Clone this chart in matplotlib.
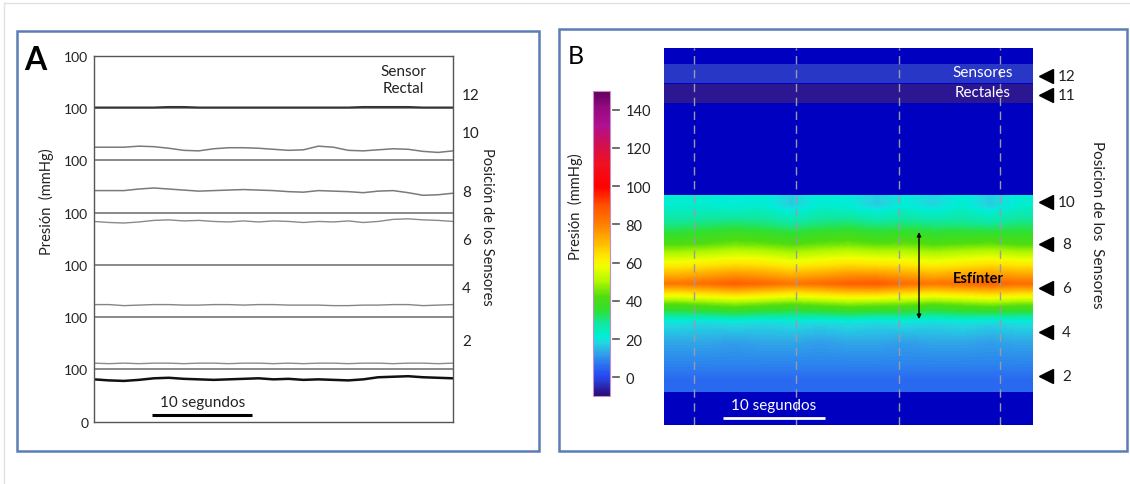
import numpy as np
import matplotlib.pyplot as plt
from matplotlib.colors import LinearSegmentedColormap, Normalize
from matplotlib.patches import Rectangle
from matplotlib.lines import Line2D
import matplotlib.transforms as mtransforms

plt.rcParams['font.family'] = ['Lato', 'DejaVu Sans']

W, H = 1130, 485

# ---- panel A: line traces, one band of 100 mmHg per channel (bottom to top) ----
t_trace = np.arange(0, 36.1, 1.5)
trace_ch1 = [81, 79, 78, 80, 83, 84, 82, 81, 80, 81, 82, 83, 81, 82, 80, 81, 80, 79, 81, 85, 86, 87, 85, 84, 83]
trace_ch2 = [12, 11, 12, 11, 12, 12, 11, 12, 12, 11, 12, 12, 11, 12, 11, 12, 12, 11, 12, 12, 11, 12, 12, 11, 12]
trace_ch3 = [24, 24, 22, 23, 24, 24, 23, 23, 24, 24, 23, 24, 24, 23, 23, 23, 22, 22, 23, 23, 24, 24, 22, 23, 24]
trace_ch4 = [83, 81, 80, 82, 85, 86, 84, 85, 83, 82, 84, 82, 84, 83, 81, 83, 82, 84, 81, 83, 87, 88, 86, 85, 83]
trace_ch5 = [42, 42, 42, 45, 47, 45, 43, 41, 42, 43, 44, 43, 42, 40, 39, 42, 41, 40, 38, 41, 42, 38, 33, 34, 37]
trace_ch6 = [25, 25, 25, 27, 26, 23, 19, 18, 22, 24, 24, 23, 21, 19, 20, 27, 25, 19, 18, 20, 22, 21, 17, 15, 18]
trace_rectal = [1, 1, 1, 1, 1, 2, 2, 1, 1, 1, 1, 1, 1, 1, 1, 1, 1, 1, 2, 2, 2, 2, 1, 1, 1]
traces_a = [trace_ch1, trace_ch2, trace_ch3, trace_ch4, trace_ch5, trace_ch6, trace_rectal]
colors_a = ['#111111', '#8c8c8c', '#858585', '#8a8a8a', '#7a7a7a', '#7a7a7a', '#333333']
widths_a = [1.8, 1.0, 1.0, 1.0, 1.1, 1.1, 1.4]

ylabels_a = ['0'] + ['100'] * 7
sensor_labels_a = ['12', '10', '8', '6', '4', '2']
sensor_pos_a = [625, 552, 439, 348, 255, 154]

# ---- panel B: pressure topography (rows = sensors 10 down to 1, cols every 3 s) ----
t_map = np.arange(0, 36.1, 3)
sensors_map = [10, 9, 8, 7, 6, 5, 4, 3, 2, 1]
pressure_map = np.array([
    [22, 22, 21, 22, 17, 22, 21, 17, 21, 18, 22, 17, 22],
    [30, 31, 32, 31, 29, 31, 32, 30, 31, 30, 30, 29, 31],
    [42, 43, 45, 44, 42, 44, 45, 43, 44, 42, 43, 44, 42],
    [60, 62, 64, 63, 60, 62, 64, 63, 62, 60, 62, 64, 62],
    [82, 84, 87, 85, 82, 84, 87, 88, 84, 82, 84, 86, 84],
    [44, 46, 48, 46, 44, 46, 48, 47, 46, 44, 46, 48, 46],
    [19, 18, 19, 18, 19, 18, 19, 18, 19, 18, 19, 18, 19],
    [13, 13, 12, 13, 13, 12, 13, 13, 12, 13, 13, 12, 13],
    [9, 9, 9, 9, 9, 9, 9, 9, 9, 9, 9, 9, 9],
    [5, 5, 5, 5, 5, 5, 5, 5, 5, 5, 5, 5, 5],
])
rectal_sensors = [12, 11]
rectal_pressure = [-3, -7]
marker_labels_b = ['12', '11', '10', '8', '6', '4', '2']
marker_pos_b = [15.8, 14.9, 10, 8.05, 6.05, 4.04, 2.0]
cbar_ticks = [0, 20, 40, 60, 80, 100, 120, 140]

# manometry colour scale
stops = [(-10, '#2a0a70'), (-7, '#2a1a98'), (-3, '#2838c8'), (0, '#2846f0'), (6, '#2a70f0'),
         (13, '#30a8e8'), (18, '#20d8e0'), (21, '#00eed8'), (28, '#10e8a0'), (35, '#30e030'),
         (42, '#50dc10'), (50, '#b0f800'), (58, '#f0ff00'), (63, '#ffe800'), (72, '#ffb000'),
         (80, '#ff8000'), (90, '#ff5000'), (100, '#ff0000'), (112, '#f01020'), (122, '#d01050'),
         (132, '#b01090'), (142, '#900a80'), (150, '#600058')]
vmin, vmax = -10, 150
cmap = LinearSegmentedColormap.from_list(
    'hrm', [((v - vmin) / (vmax - vmin), c) for v, c in stops])
norm = Normalize(vmin, vmax)


def fr(x0, y0, x1, y1):
    """pixel box -> figure fraction rect"""
    return [x0 / W, 1 - y1 / H, (x1 - x0) / W, (y1 - y0) / H]


fig = plt.figure(figsize=(W / 100, H / 100), dpi=100)

# outer page edge and the two panel frames
fig.add_artist(Line2D([4 / W, 4 / W], [0, 1 - 4 / H], color='#e2e2e2', lw=1))
fig.add_artist(Line2D([4 / W, 1], [1 - 4 / H, 1 - 4 / H], color='#e2e2e2', lw=1))
for box in [(17, 32, 539, 452), (559, 30, 1127, 452)]:
    x0, y0, w, h = fr(*box)
    fig.add_artist(Rectangle((x0, y0), w, h, transform=fig.transFigure,
                             fill=False, edgecolor='#5b7db5', lw=1.8))

# ---------------- panel A ----------------
ax = fig.add_axes(fr(94, 56.7, 453, 422.7))
ax.set_xlim(0, 36)
ax.set_ylim(0, 700)
for k in range(1, 7):
    ax.axhline(k * 100, color='#6a6a6a', lw=1.1)
for k, (vals, c, lw) in enumerate(zip(traces_a, colors_a, widths_a)):
    ax.plot(t_trace, np.array(vals) + k * 100, color=c, lw=lw)
ax.set_xticks([])
ax.set_yticks(np.arange(0, 701, 100))
ax.set_yticklabels(ylabels_a)
ax.tick_params(axis='y', length=0, pad=4, labelsize=10, labelcolor='#222222')
for s in ax.spines.values():
    s.set_color('#555555')
    s.set_linewidth(1.0)

tr_a = mtransforms.blended_transform_factory(ax.transAxes, ax.transData)
for lab, y in zip(sensor_labels_a, sensor_pos_a):
    ax.text(1.025, y, lab, transform=tr_a, ha='left', va='center', fontsize=11, color='#222222')
ax.text(0.862, 0.935, 'Sensor\nRectal', transform=ax.transAxes, ha='center', va='center',
        fontsize=11, linespacing=1.25, color='#222222')
ax.plot([5.85, 15.85], [13.4, 13.4], color='black', lw=2.2, solid_capstyle='butt')
ax.text(10.9, 38, '10 segundos', ha='center', va='center', fontsize=11, color='#222222')

fig.text(46 / W, 1 - 201.7 / H, 'Presión  (mmHg)', rotation=90, ha='center', va='center',
         fontsize=10.5, color='#222222')
fig.text(487 / W, 1 - 227 / H, 'Posición de los Sensores', rotation=270, ha='center', va='center',
         fontsize=10.5, color='#222222')
fig.text(35 / W, 1 - 60 / H, 'A', fontsize=23, fontweight='bold', ha='center', va='center')

# ---------------- panel B ----------------
bx = fig.add_axes(fr(664.3, 49, 1033, 426))
bx.set_facecolor('#0000c0')
bx.set_xlim(0, 36)
bx.set_ylim(-0.25, 17.08)
im = bx.imshow(pressure_map, cmap=cmap, norm=norm, aspect='auto', interpolation='bilinear',
               extent=(t_map[0], t_map[-1], 1.26, 10.28), origin='upper')
rect_rows = {12: (15.46, 16.31), 11: (14.54, 15.39)}
for sid, p in zip(rectal_sensors, rectal_pressure):
    lo, hi = rect_rows[sid]
    bx.imshow([[p, p]], cmap=cmap, norm=norm, aspect='auto', extent=(0, 36, lo, hi))
for tx in [2.9, 12.85, 22.9, 32.8]:
    bx.axvline(tx, color='#9a9aa8', lw=1.0, dashes=(6, 4))
bx.set_xticks([])
bx.set_yticks([])
for s in bx.spines.values():
    s.set_visible(False)

bx.text(31.1, 15.98, 'Sensores', color='white', ha='center', va='center', fontsize=11)
bx.text(31.1, 15.06, 'Rectales', color='white', ha='center', va='center', fontsize=11)
bx.annotate('', xy=(24.87, 8.62), xytext=(24.87, 4.62),
            arrowprops=dict(arrowstyle='<|-|>', color='black', lw=1.0,
                            mutation_scale=6, shrinkA=0, shrinkB=0))
bx.text(30.7, 6.5, 'Esfínter', ha='center', va='center', fontsize=10.5, fontweight='bold')
bx.plot([5.7, 15.7], [0.07, 0.07], color='white', lw=2.0, solid_capstyle='butt')
bx.text(10.7, 0.68, '10 segundos', color='white', ha='center', va='center', fontsize=11)

tr_b = mtransforms.blended_transform_factory(bx.transAxes, bx.transData)
for lab, y in zip(marker_labels_b, marker_pos_b):
    bx.plot([1.034], [y], marker='<', color='black', markersize=9.5, transform=tr_b, clip_on=False)
    bx.text(1.0908, y, lab, transform=tr_b, ha='center', va='center', fontsize=11, color='#222222')
fig.text(1097 / W, 1 - 225 / H, 'Posicion de los  Sensores', rotation=270, ha='center',
         va='center', fontsize=11, color='#222222')

# colour bar
cax = fig.add_axes(fr(593.3, 91.7, 609.7, 397.3))
cb = fig.colorbar(im, cax=cax)
cb.set_ticks(cbar_ticks)
cb.outline.set_edgecolor('#c090c8')
cb.outline.set_linewidth(0.8)
cax.tick_params(length=0, pad=11.5, labelsize=10.5, labelcolor='#222222')
tr_c = mtransforms.blended_transform_factory(cax.transAxes, cax.transData)
for v in cbar_ticks:
    cax.plot([1.22, 1.58], [v, v], color='#555555', lw=1.2, transform=tr_c, clip_on=False)
fig.text(575 / W, 1 - 206.7 / H, 'Presión  (mmHg)', rotation=90, ha='center', va='center',
         fontsize=10.5, color='#222222')
fig.text(576 / W, 1 - 56 / H, 'B', fontsize=18, ha='center', va='center')

fig.savefig('out.png', dpi=100)
